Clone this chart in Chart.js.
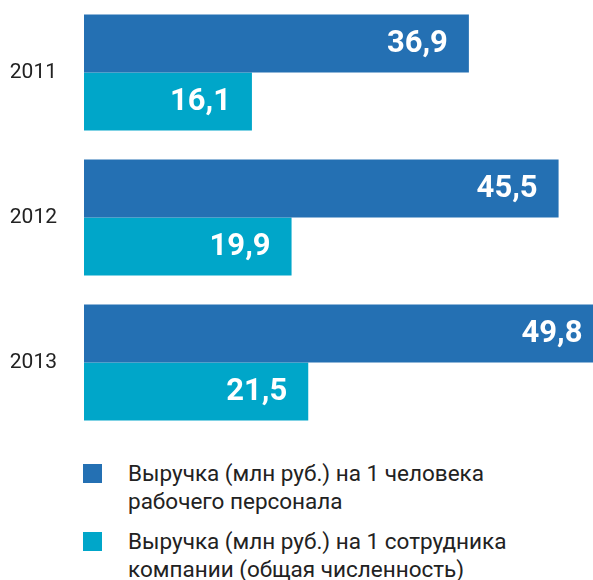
<!DOCTYPE html>
<html>
<head>
<meta charset="utf-8">
<script src="https://cdn.jsdelivr.net/npm/chart.js@4.4.0/dist/chart.umd.min.js"></script>
<style>
	body { margin: 0; background: #fff; width: 593px; height: 580px; overflow: hidden; position: relative; }
	#myChart { position: absolute; left: 0; top: 0; }
	.legend { position: absolute; left: 83px; font-family: Roboto, sans-serif; font-size: 22.5px; line-height: 28px; color: #222; }
	.legend .sq { position: absolute; left: 0; top: 5px; width: 19px; height: 19px; }
	.legend .txt { margin-left: 45px; }
</style>
</head>
<body>
<canvas id="myChart" width="593" height="435"></canvas>
<div class="legend" style="top:459px"><div class="sq" style="background:#2470b3"></div><div class="txt">Выручка (млн руб.) на 1 человека<br>рабочего персонала</div></div>
<div class="legend" style="top:527px"><div class="sq" style="background:#00a6c9"></div><div class="txt">Выручка (млн руб.) на 1 сотрудника<br>компании (общая численность)</div></div>
<script>
let years = ['2011', '2012', '2013']
let perWorker = [36.9, 45.5, 49.8]
let perEmployee = [16.1, 19.9, 21.5]

// подписи значений внутри столбцов, с запятой
const valueLabels = {
	id: 'valueLabels',
	afterDatasetsDraw(chart) {
		let ctx = chart.ctx
		ctx.save()
		ctx.font = 'bold 31px Roboto'
		ctx.fillStyle = '#fff'
		ctx.textAlign = 'right'
		ctx.textBaseline = 'middle'
		chart.data.datasets.forEach((ds, i) => {
			chart.getDatasetMeta(i).data.forEach((bar, j) => {
				ctx.fillText(ds.data[j].toFixed(1).replace('.', ','), bar.x - 21, bar.y + 1)
			})
		})
		ctx.restore()
	},
}

var ctx = document.getElementById('myChart').getContext('2d')
var myChart = new Chart(ctx, {
	type: 'bar',
	data: {
		labels: years,
		datasets: [
			{
				label: 'Выручка (млн руб.) на 1 человека рабочего персонала',
				data: perWorker,
				backgroundColor: '#2470b3',
			},
			{
				label: 'Выручка (млн руб.) на 1 сотрудника компании (общая численность)',
				data: perEmployee,
				backgroundColor: '#00a6c9',
			},
		],
	},
	options: {
		indexAxis: 'y',
		responsive: false,
		animation: false,
		layout: { padding: 0, autoPadding: false },
		datasets: { bar: { categoryPercentage: 0.8, barPercentage: 1 } },
		plugins: { legend: { display: false }, tooltip: { enabled: false } },
		scales: {
			x: { display: false, min: 0, max: 48.8 },
			y: {
				grid: { display: false, drawTicks: true, tickLength: 27 },
				border: { display: false },
				ticks: { padding: 0, color: '#222', font: { family: 'Roboto', size: 21 } },
				afterFit(scale) {
					scale.width = 84
					scale.paddingTop = 0
					scale.paddingBottom = 0
				},
			},
		},
	},
	plugins: [valueLabels],
})
</script>
</body>
</html>
